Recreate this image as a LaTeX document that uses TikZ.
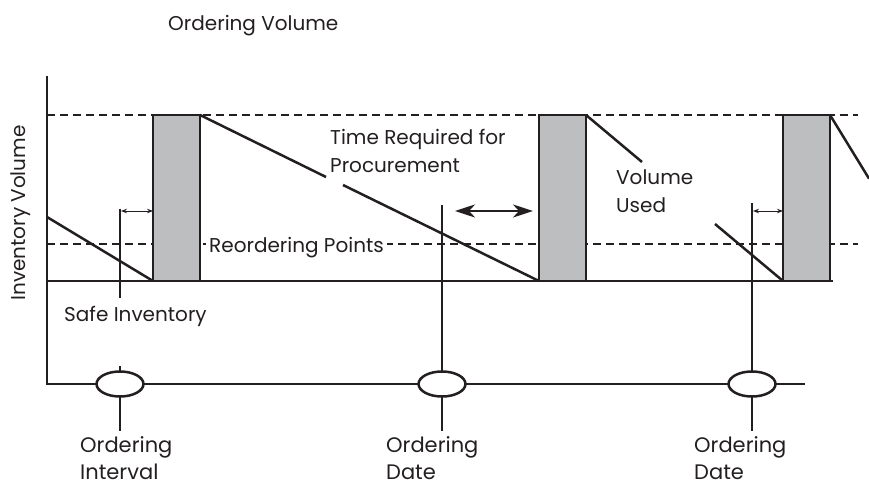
\documentclass[tikz,border=0pt]{standalone}
\usepackage{fontspec}
\setmainfont{Poppins}
\usetikzlibrary{arrows.meta,shapes.geometric}
\definecolor{ink}{HTML}{231F20}
\definecolor{barfill}{HTML}{BCBEC0}
\begin{document}
\begin{tikzpicture}[x=1pt,y=-1pt,
  mainline/.style={draw=ink, line width=2.5pt},
  dashln/.style={draw=ink, line width=2.3pt, dash pattern=on 8pt off 5pt},
  barbox/.style={draw=ink, fill=barfill, line width=2.5pt, rectangle, minimum width=47pt, minimum height=166pt, inner sep=0pt, outer sep=0pt},
  markln/.style={draw=ink, line width=2.1pt},
  oval/.style={draw=ink, fill=white, line width=2.5pt, ellipse, minimum width=47pt, minimum height=25pt, inner sep=0pt, outer sep=0pt},
  lbl/.style={font=\fontsize{20}{28}\selectfont, text=ink, inner sep=0pt, align=left, anchor=base west},
  botlbl/.style={lbl, font=\fontsize{21}{27}\selectfont},
  thinarr/.style={draw=ink, line width=0.9pt, {Stealth[length=6pt,width=4.5pt]}-{Stealth[length=6pt,width=4.5pt]}},
  bigarr/.style={draw=ink, line width=2.6pt, {Stealth[length=20pt,width=13pt,inset=6pt]}-{Stealth[length=20pt,width=13pt,inset=6pt]}}
]
\useasboundingbox (0,0) rectangle (869,486);

% reference lines
\coordinate (ytop) at (47,76);
\coordinate (origin) at (47,384);
\coordinate (tend) at (805,384);
\coordinate (base0) at (47,281);
\coordinate (baseend) at (833,281);
\coordinate (dtop0) at (47,115);
\coordinate (dtop1) at (858,115);
\coordinate (dlow0) at (47,244);
\coordinate (dlow1) at (858,244);

\draw[dashln] (dtop0) -- (dtop1);
\draw[dashln] (dlow0) -- (dlow1);

% bars
\node[barbox] (b1) at (176.5,198) {};
\node[barbox] (b2) at (562.5,198) {};
\node[barbox] (b3) at (806.5,198) {};

% axes
\draw[mainline, line join=miter] (ytop) -- (origin) -- (tend);
\draw[mainline] (base0) -- (baseend);

% inventory slopes
\coordinate (s0) at (47,217);
\coordinate (s1a) at (326,177);
\coordinate (s1b) at (343,185);
\coordinate (s2a) at (642,162);
\coordinate (s2b) at (715,224);
\coordinate (s3) at (869,178.6);
\draw[mainline] (s0) -- (b1.south west);
\draw[mainline] (b1.north east) -- (s1a);
\draw[mainline] (s1b) -- (b2.south west);
\draw[mainline] (b2.north east) -- (s2a);
\draw[mainline] (s2b) -- (b3.south west);
\draw[mainline] (b3.north east) -- (s3);

% labels
\node[lbl] (title) at (168,31) {Ordering Volume};
\node[lbl, rotate=90, anchor=base] (yl) at (25,213) {Inventory Volume};
\node[lbl, fill=white, inner xsep=3pt, inner ysep=2pt] (reord) at (206,252) {Reordering Points};
\node[lbl] (proc) at (330,173) {Time Required for\\Procurement};
\node[lbl] (used) at (616,213) {Volume\\Used};
\node[lbl] (safe) at (64,321) {Safe Inventory};

% ellipses on time axis
\node[oval] (e1) at (120,384) {};
\node[oval] (e2) at (442,384) {};
\node[oval] (e3) at (752,384) {};

% marker lines
\coordinate (m1t) at (120,209);
\coordinate (m1b) at (120,298);
\coordinate (m1s) at (120,366);
\coordinate (m2t) at (442,205);
\coordinate (m3t) at (752,203);
\coordinate (d1) at (120,431);
\coordinate (d2) at (442,431);
\coordinate (d3) at (752,431);
\draw[markln] (m1t) -- (m1b);
\draw[markln] (m1s) -- (e1.north);
\draw[markln] (m2t) -- (e2.north);
\draw[markln] (m3t) -- (e3.north);
\draw[markln] (e1.south) -- (d1);
\draw[markln] (e2.south) -- (d2);
\draw[markln] (e3.south) -- (d3);

% arrows
\coordinate (a1l) at (121,211);
\coordinate (a3l) at (753,211);
\coordinate (bal) at (455,211);
\coordinate (bar) at (533,211);
\draw[thinarr] (a1l) -- (b1.west |- a1l);
\draw[thinarr] (a3l) -- (b3.west |- a3l);
\draw[bigarr] (bal) -- (bar);

% bottom labels
\node[botlbl] (oi) at (80,479) {Ordering\\Interval};
\node[botlbl] (od1) at (386,479) {Ordering\\Date};
\node[botlbl] (od2) at (694,479) {Ordering\\Date};
\end{tikzpicture}
\end{document}
